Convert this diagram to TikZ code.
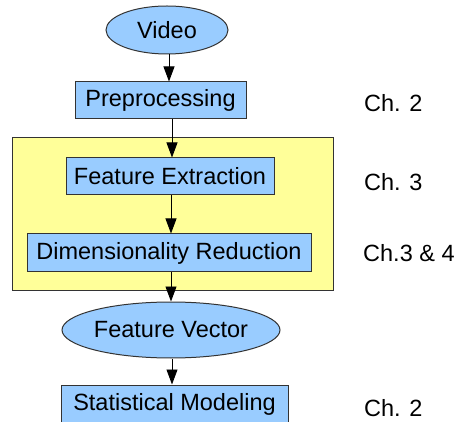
\documentclass[tikz,border=0pt]{standalone}
\usepackage{fontspec}
\setmainfont{Liberation Sans}
\usetikzlibrary{shapes.geometric,arrows.meta}
\definecolor{boxblue}{HTML}{99CCFF}
\definecolor{groupyellow}{HTML}{FFFF99}
\definecolor{edgegray}{HTML}{333333}
\tikzset{
  base/.style={draw=edgegray, line width=1pt, fill=boxblue, inner sep=0pt,
    font=\fontsize{23.5}{28}\selectfont},
  stepbox/.style={base, rectangle},
  datablob/.style={base, ellipse},
  arr/.style={draw=black, line width=0.9pt, -{Triangle[length=15pt,width=11pt]}},
  chlabel/.style={anchor=west, inner sep=0pt, font=\fontsize{23.5}{28}\selectfont},
}
\begin{document}
\begin{tikzpicture}[x=1pt,y=-1pt]
  \useasboundingbox (0,0) rectangle (458,422);
  % group frame behind the two feature steps
  \node[draw=edgegray, line width=1pt, fill=groupyellow, rectangle, inner sep=0pt,
        minimum width=321pt, minimum height=152pt] (group) at (172.5,214) {};

  \node[datablob, minimum width=122pt, minimum height=48pt] (video) at (167,30) {Video};
  \node[stepbox, minimum width=171pt, minimum height=37pt] (pre) at (160.5,100.5) {Preprocessing};
  \node[stepbox, minimum width=208pt, minimum height=37pt] (fe) at (170,176.5) {Feature Extraction};
  \node[stepbox, minimum width=284pt, minimum height=38pt] (dr) at (169,253) {Dimensionality Reduction};
  \node[datablob, minimum width=190pt, minimum height=56pt] (fv) at (171,330) {Feature Vector};
  \node[stepbox, minimum width=227pt, minimum height=38pt] (sm) at (174.5,404) {Statistical Modeling};

  \node[chlabel] (c1) at (364,103) {Ch. 2};
  \node[chlabel] (c2) at (364,182) {Ch. 3};
  \node[chlabel] (c3) at (363,253) {Ch.3 \& 4};
  \node[chlabel] (c4) at (364,408) {Ch. 2};

  \draw[arr] ([xshift=2pt]video.south) -- ([xshift=2pt]video.south |- pre.north);
  \draw[arr] ([xshift=11.5pt]pre.south) -- ([xshift=11.5pt]pre.south |- fe.north);
  \draw[arr] ([xshift=1pt]fe.south) -- ([xshift=1pt]fe.south |- dr.north);
  \draw[arr] ([xshift=2pt]dr.south) -- ([xshift=2pt]dr.south |- fv.north);
  \draw[arr] ([xshift=1pt]fv.south) -- ([xshift=1pt]fv.south |- sm.north);
\end{tikzpicture}
\end{document}
